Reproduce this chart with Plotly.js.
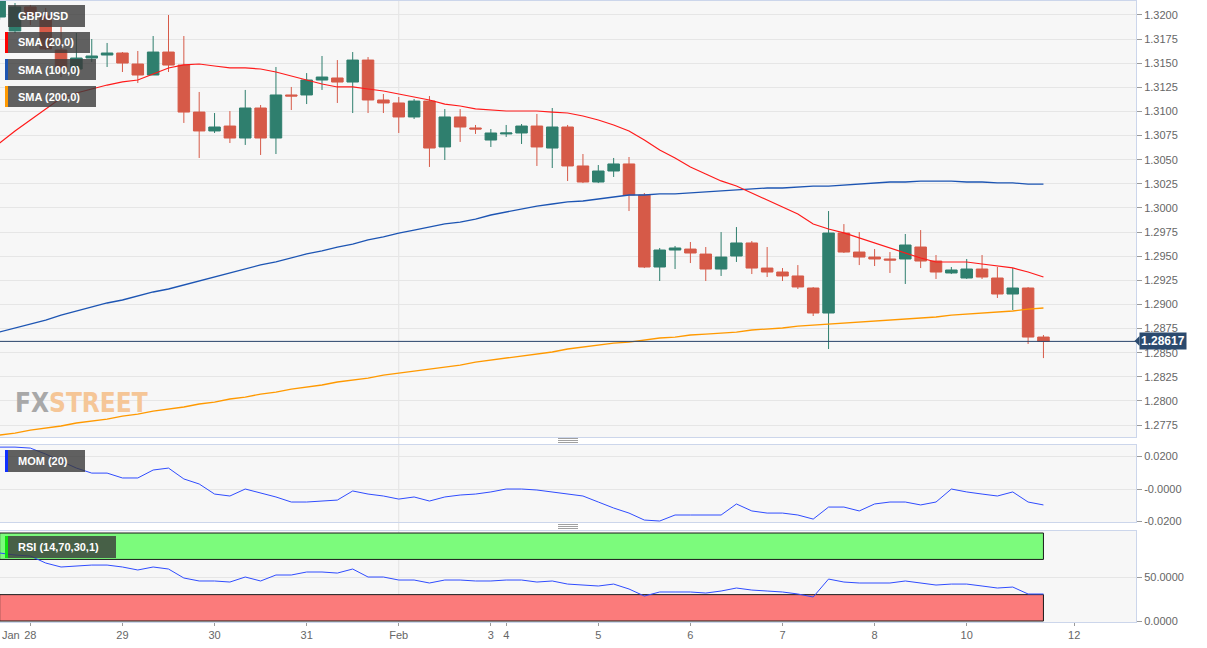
<!DOCTYPE html>
<html><head><meta charset="utf-8">
<script src="https://cdn.plot.ly/plotly-3.0.1.min.js"></script>
<style>html,body{margin:0;padding:0;background:#fff;}#chart{width:1207px;height:648px;}</style>
</head><body><div id="chart"></div>
<script>
// ---- GBP/USD 4H candles (Jan 27 20:00 .. Feb 11 16:00) ----
const openP  = [1.31979,1.31834,1.32083,1.31990,1.31637,1.31440,1.31554,1.31585,1.31606,1.31492,1.31378,1.31616,1.31481,1.30994,1.30798,1.30849,1.30725,1.31036,1.30725,1.31171,1.31171,1.31326,1.31347,1.31305,1.31533,1.31119,1.31088,1.30943,1.31108,1.30632,1.30943,1.30829,1.30704,1.30767,1.30777,1.30849,1.30621,1.30839,1.30435,1.30269,1.30383,1.30456,1.30134,1.29388,1.29564,1.29574,1.29522,1.29367,1.29502,1.29637,1.29377,1.29336,1.29295,1.29170,1.28911,1.29740,1.29543,1.29491,1.29471,1.29471,1.29595,1.29450,1.29326,1.29274,1.29367,1.29274,1.29108,1.29170,1.28662];
const highP  = [1.32200,1.32124,1.32104,1.32073,1.31876,1.31813,1.31751,1.31710,1.31616,1.31627,1.31782,1.32000,1.31782,1.31202,1.30984,1.31004,1.31223,1.31067,1.31461,1.31254,1.31398,1.31575,1.31533,1.31616,1.31564,1.31181,1.31150,1.31129,1.31160,1.31025,1.31025,1.30860,1.30818,1.30860,1.30870,1.30974,1.31036,1.30860,1.30559,1.30445,1.30518,1.30528,1.30155,1.29585,1.29606,1.29647,1.29595,1.29750,1.29802,1.29657,1.29595,1.29377,1.29408,1.29180,1.29968,1.29833,1.29750,1.29574,1.29543,1.29730,1.29771,1.29512,1.29388,1.29471,1.29512,1.29388,1.29377,1.29180,1.28683];
const lowP   = [1.31950,1.31813,1.31896,1.31637,1.31357,1.31378,1.31513,1.31461,1.31409,1.31295,1.31378,1.31409,1.30881,1.30518,1.30777,1.30673,1.30653,1.30549,1.30559,1.31015,1.31077,1.31223,1.31088,1.30984,1.30984,1.30984,1.30777,1.30922,1.30425,1.30497,1.30684,1.30767,1.30632,1.30736,1.30663,1.30435,1.30414,1.30279,1.30258,1.30258,1.30321,1.29968,1.29377,1.29243,1.29367,1.29429,1.29243,1.29295,1.29440,1.29315,1.29284,1.29243,1.29160,1.28880,1.28538,1.29533,1.29408,1.29398,1.29326,1.29212,1.29377,1.29264,1.29315,1.29264,1.29264,1.29067,1.28942,1.28590,1.28444];
const closeP = [1.32150,1.32083,1.31990,1.31648,1.31450,1.31554,1.31575,1.31606,1.31502,1.31378,1.31616,1.31481,1.30994,1.30798,1.30839,1.30725,1.31036,1.30725,1.31171,1.31160,1.31326,1.31357,1.31305,1.31533,1.31119,1.31088,1.30943,1.31108,1.30621,1.30943,1.30839,1.30818,1.30777,1.30777,1.30849,1.30632,1.30839,1.30435,1.30269,1.30383,1.30456,1.30134,1.29388,1.29564,1.29585,1.29533,1.29367,1.29491,1.29637,1.29377,1.29336,1.29295,1.29181,1.28911,1.29740,1.29543,1.29491,1.29471,1.29460,1.29616,1.29450,1.29336,1.29357,1.29367,1.29284,1.29108,1.29170,1.28662,1.28617];

// ---- moving averages ----
const sma20  = [1.30673,1.30798,1.30912,1.31026,1.31140,1.31191,1.31233,1.31274,1.31306,1.31326,1.31388,1.31451,1.31482,1.31492,1.31471,1.31451,1.31451,1.31440,1.31409,1.31368,1.31326,1.31285,1.31254,1.31254,1.31233,1.31212,1.31181,1.31150,1.31119,1.31077,1.31057,1.31026,1.31015,1.31005,1.31005,1.31005,1.30994,1.30984,1.30953,1.30912,1.30860,1.30798,1.30704,1.30601,1.30518,1.30425,1.30352,1.30280,1.30228,1.30155,1.30082,1.30010,1.29937,1.29834,1.29782,1.29741,1.29689,1.29637,1.29585,1.29533,1.29481,1.29440,1.29440,1.29440,1.29419,1.29398,1.29378,1.29336,1.29284];
const sma100 = [1.28714,1.28756,1.28797,1.28838,1.28890,1.28932,1.28973,1.29015,1.29046,1.29087,1.29129,1.29160,1.29201,1.29243,1.29284,1.29326,1.29367,1.29409,1.29440,1.29481,1.29523,1.29554,1.29595,1.29626,1.29668,1.29699,1.29740,1.29771,1.29802,1.29834,1.29854,1.29885,1.29927,1.29958,1.29989,1.30020,1.30041,1.30062,1.30072,1.30093,1.30113,1.30134,1.30134,1.30145,1.30145,1.30155,1.30165,1.30176,1.30186,1.30196,1.30207,1.30207,1.30217,1.30227,1.30227,1.30238,1.30248,1.30259,1.30269,1.30269,1.30279,1.30279,1.30279,1.30269,1.30269,1.30259,1.30259,1.30248,1.30248];
const sma200 = [1.27646,1.27667,1.27698,1.27719,1.27740,1.27771,1.27791,1.27812,1.27843,1.27864,1.27895,1.27916,1.27937,1.27968,1.27988,1.28020,1.28040,1.28071,1.28092,1.28123,1.28144,1.28165,1.28196,1.28216,1.28237,1.28268,1.28289,1.28310,1.28330,1.28351,1.28372,1.28403,1.28424,1.28444,1.28465,1.28486,1.28507,1.28538,1.28559,1.28579,1.28600,1.28610,1.28631,1.28652,1.28662,1.28683,1.28693,1.28704,1.28714,1.28735,1.28745,1.28756,1.28776,1.28787,1.28797,1.28807,1.28818,1.28828,1.28838,1.28849,1.28859,1.28870,1.28890,1.28901,1.28911,1.28921,1.28932,1.28952,1.28963];

// ---- indicators ----
const mom20 = [0.0258,0.0258,0.0252,0.0215,0.0172,0.0129,0.0098,0.0098,0.0068,0.0068,0.0117,0.0129,0.0062,0.0031,-0.0031,-0.0043,0.0000,-0.0025,-0.0049,-0.0080,-0.0080,-0.0074,-0.0068,-0.0012,-0.0031,-0.0043,-0.0062,-0.0049,-0.0074,-0.0049,-0.0037,-0.0031,-0.0018,0.0000,0.0000,-0.0006,-0.0018,-0.0031,-0.0043,-0.0080,-0.0117,-0.0148,-0.0191,-0.0197,-0.0160,-0.0160,-0.0160,-0.0160,-0.0092,-0.0135,-0.0148,-0.0148,-0.0160,-0.0185,-0.0111,-0.0111,-0.0135,-0.0092,-0.0080,-0.0080,-0.0098,-0.0080,0.0000,-0.0018,-0.0031,-0.0043,-0.0018,-0.0080,-0.0098];
const rsi14 = [77.3,75.0,73.9,65.9,61.4,62.5,63.6,63.6,61.4,58.0,61.4,59.1,48.9,45.5,45.5,44.3,50.0,45.5,52.3,52.3,55.7,55.7,54.5,59.1,50.0,50.0,46.6,46.6,43.2,46.6,46.6,45.5,45.5,46.6,46.6,44.3,45.5,42.0,40.9,39.8,42.0,36.4,28.4,33.0,33.0,33.0,31.8,34.1,37.5,35.2,34.1,33.0,30.7,27.3,47.7,44.3,43.2,43.2,43.2,45.5,43.2,40.9,42.0,42.0,39.8,37.5,38.6,30.7,30.7];
const rsiBands = [30, 70, 100];

// ---- axis labels ----
const dayTickIndex = [2, 8, 14, 20, 26, 32, 33, 39, 45, 51, 57, 63, 70];
const dayTickText  = ["28", "29", "30", "31", "Feb", "3", "4", "5", "6", "7", "8", "10", "12"];
const momTickVals = [0.02, 0, -0.02];
const momTickText = ["0.0200", "-0.0000", "-0.0200"];
const rsiTickVals = [50, 0];
const rsiTickText = ["50.0000", "0.0000"];

const idx = openP.map((_, k) => k);
const lastK = idx[idx.length - 1];
const lastClose = closeP[closeP.length - 1];

const FONT = 'Liberation Sans, Arial, sans-serif';
const W = 1207, H = 648, MR = 71, MT = 1, MB = 26;
const PW = W - MR, PH = H - MT - MB;
const px = x => x / PW;
const py = y => (PH + MT - y) / PH;

const GREEN = '#2f7f6e', RED = '#d65a48';
const BORDER = '#ccd6eb', GRID = '#e6e6e6', TICKC = '#666666';

const traces = [
  {type: 'candlestick', x: idx, open: openP, high: highP, low: lowP, close: closeP,
   xaxis: 'x', yaxis: 'y', whiskerwidth: 0, hoverinfo: 'skip',
   increasing: {line: {color: GREEN, width: 1}, fillcolor: GREEN},
   decreasing: {line: {color: RED, width: 1}, fillcolor: RED}},
  {type: 'scatter', mode: 'lines', x: idx, y: sma100, xaxis: 'x', yaxis: 'y', line: {color: '#1d55b3', width: 1.3}, hoverinfo: 'skip'},
  {type: 'scatter', mode: 'lines', x: idx, y: sma200, xaxis: 'x', yaxis: 'y', line: {color: '#ff9900', width: 1.3}, hoverinfo: 'skip'},
  {type: 'scatter', mode: 'lines', x: idx, y: sma20, xaxis: 'x', yaxis: 'y', line: {color: '#ff1a1a', width: 1.2}, hoverinfo: 'skip'},
  {type: 'scatter', mode: 'lines', x: idx, y: mom20, xaxis: 'x2', yaxis: 'y2', line: {color: '#2f4cff', width: 1}, hoverinfo: 'skip'},
  {type: 'scatter', mode: 'lines', x: idx, y: rsi14, xaxis: 'x3', yaxis: 'y3', line: {color: '#2f4cff', width: 1}, hoverinfo: 'skip'}
];

const xr0 = 0.0228, xr1 = 0.0228 + PW / 15.35;
const xBase = {range: [xr0, xr1], showgrid: false, zeroline: false, showline: true, mirror: true,
  linecolor: BORDER, linewidth: 1, fixedrange: true};
const yBase = {side: 'right', showline: true, mirror: true, linecolor: BORDER, linewidth: 1,
  gridcolor: GRID, gridwidth: 1, zeroline: false, ticks: 'outside', ticklen: 5, tickcolor: '#9a9a9a',
  tickfont: {family: FONT, size: 11, color: TICKC}, fixedrange: true};

const shapes = [];
// panel backgrounds
['y', 'y2', 'y3'].forEach(yr => shapes.push({type: 'rect', xref: 'paper', yref: yr + ' domain',
  x0: 0, x1: 1, y0: 0, y1: 1, fillcolor: '#f7f7f7', line: {width: 0}, layer: 'below'}));
// Feb vertical line
shapes.push({type: 'line', xref: 'x', yref: 'paper', x0: dayTickIndex[4], x1: dayTickIndex[4], y0: 0, y1: 1,
  line: {color: '#e3e3e3', width: 1}, layer: 'below'});
// RSI bands
shapes.push({type: 'rect', xref: 'x3', yref: 'y3', x0: idx[0], x1: lastK, y0: rsiBands[1], y1: rsiBands[2],
  fillcolor: '#7cfb7c', line: {color: '#1a1a1a', width: 1}, layer: 'between'});
shapes.push({type: 'rect', xref: 'x3', yref: 'y3', x0: idx[0], x1: lastK, y0: 0, y1: rsiBands[0],
  fillcolor: '#fb7b7b', line: {color: '#1a1a1a', width: 1}, layer: 'between'});
// last price line
shapes.push({type: 'line', xref: 'paper', yref: 'y', x0: 0, x1: 1, y0: lastClose, y1: lastClose,
  line: {color: '#27436a', width: 1}, layer: 'above'});
// pointer of the price label
shapes.push({type: 'path', xref: 'paper', yref: 'paper',
  path: `M ${px(1134.5)} ${py(341)} L ${px(1139.5)} ${py(336)} L ${px(1139.5)} ${py(346)} Z`,
  fillcolor: '#2b4a6e', line: {width: 0}, layer: 'above'});
// panel separator handles
[440, 526].forEach(yy => [-2, 0, 2].forEach(d => shapes.push({type: 'line', xref: 'paper', yref: 'paper',
  x0: px(558), x1: px(578), y0: py(yy + d + 0.5), y1: py(yy + d + 0.5), line: {color: '#a0a0a0', width: 1}})));

// legend chips
const chips = [
  {text: 'GBP/USD', x1: 85, y0: 5, y1: 27, bar: null},
  {text: 'SMA (20,0)', x1: 90, y0: 32, y1: 53, bar: '#ff0000'},
  {text: 'SMA (100,0)', x1: 96, y0: 59, y1: 80, bar: '#1d55b3'},
  {text: 'SMA (200,0)', x1: 96, y0: 86, y1: 107, bar: '#ff9900'},
  {text: 'MOM (20)', x1: 85, y0: 450, y1: 472, bar: '#1030ff'},
  {text: 'RSI (14,70,30,1)', x1: 116, y0: 536, y1: 558, bar: '#10e010'}
];
const annotations = [];
chips.forEach(c => {
  shapes.push({type: 'rect', xref: 'paper', yref: 'paper', x0: px(8), x1: px(c.x1), y0: py(c.y1), y1: py(c.y0),
    fillcolor: 'rgba(58,58,58,0.8)', line: {width: 0}, layer: 'above'});
  if (c.bar) shapes.push({type: 'rect', xref: 'paper', yref: 'paper', x0: px(5), x1: px(8), y0: py(c.y1), y1: py(c.y0),
    fillcolor: c.bar, line: {width: 0}, layer: 'above'});
  annotations.push({xref: 'paper', yref: 'paper', x: px(16), y: py((c.y0 + c.y1) / 2), xanchor: 'left', yanchor: 'middle',
    text: '<b>' + c.text + '</b>', showarrow: false, font: {family: FONT, size: 11, color: '#ffffff'}});
});
// price label
annotations.push({xref: 'paper', yref: 'y', x: 1, y: lastClose, xanchor: 'left', yanchor: 'middle', xshift: 3,
  text: '<b>' + lastClose.toFixed(5) + '</b>', showarrow: false, bgcolor: '#2b4a6e', borderpad: 1,
  font: {family: FONT, size: 12, color: '#ffffff'}});
// month label
annotations.push({xref: 'paper', yref: 'paper', x: 0, y: py(635), xanchor: 'left', yanchor: 'middle', xshift: 0,
  text: 'Jan', showarrow: false, font: {family: FONT, size: 11, color: TICKC}});
// watermark
annotations.push({xref: 'paper', yref: 'paper', x: px(13), y: py(403), xanchor: 'left', yanchor: 'middle',
  text: '<b><span style="color:#a8a8a8">FX</span><span style="color:#f5c697">STREET</span></b>', showarrow: false,
  font: {family: 'Liberation Sans Narrow, DejaVu Sans Condensed, sans-serif', size: 26}});

const layout = {
  width: W, height: H, margin: {l: 0, r: MR, t: MT, b: MB, pad: 0},
  paper_bgcolor: '#ffffff', plot_bgcolor: 'rgba(0,0,0,0)', showlegend: false,
  boxgap: 0.25, boxgroupgap: 0, hovermode: false, dragmode: false,
  xaxis: Object.assign({}, xBase, {anchor: 'y', rangeslider: {visible: false}, showticklabels: false, ticks: ''}),
  xaxis2: Object.assign({}, xBase, {anchor: 'y2', matches: 'x', showticklabels: false, ticks: ''}),
  xaxis3: Object.assign({}, xBase, {anchor: 'y3', matches: 'x', tickmode: 'array', tickvals: dayTickIndex, ticktext: dayTickText,
    ticks: 'outside', ticklen: 3, tickcolor: '#9a9a9a', tickfont: {family: FONT, size: 11, color: TICKC}}),
  yaxis: Object.assign({}, yBase, {domain: [py(437), 1], range: [1.27626, 1.32145], tickmode: 'linear', tick0: 1.2775, dtick: 0.0025, tickformat: '.4f'}),
  yaxis2: Object.assign({}, yBase, {domain: [py(522), py(445)], range: [-0.0203, 0.0271], tickmode: 'array', tickvals: momTickVals, ticktext: momTickText}),
  yaxis3: Object.assign({}, yBase, {domain: [0, py(531)], range: [-1.1, 102.3], tickmode: 'array', tickvals: rsiTickVals, ticktext: rsiTickText}),
  shapes: shapes, annotations: annotations
};

Plotly.newPlot('chart', traces, layout, {displayModeBar: false, staticPlot: true});
</script>
</body></html>
